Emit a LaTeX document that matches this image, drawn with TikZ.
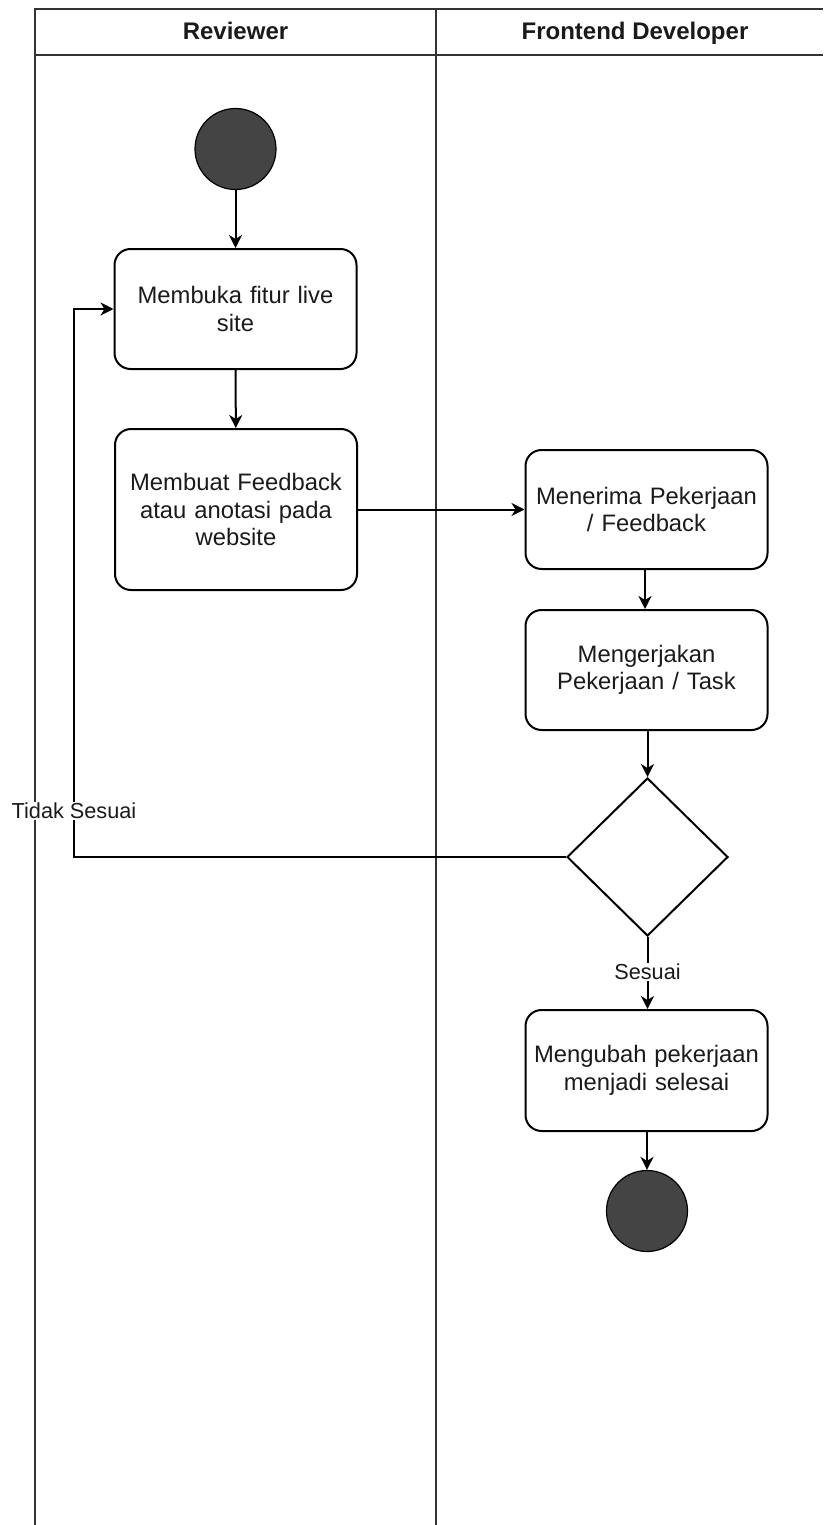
\documentclass[tikz,border=0pt]{standalone}
\usepackage{fontspec}
\setmainfont{Liberation Sans}
\usetikzlibrary{shapes.geometric,arrows.meta}
\definecolor{poolc}{HTML}{333333}
\definecolor{dotc}{HTML}{444444}
\definecolor{txtc}{HTML}{1A1A1A}
\tikzset{
  act/.style={draw=black, line width=2pt, rounded corners=16pt, align=center,
    minimum width=242pt, text width=234pt, inner sep=0pt, text=txtc,
    font=\fontsize{23.8}{27.5}\selectfont},
  dot/.style={circle, draw=black, line width=1.2pt, fill=dotc, minimum size=81pt, inner sep=0pt},
  dec/.style={diamond, draw=black, line width=2pt, minimum width=161pt, minimum height=158pt, inner sep=0pt},
  conn/.style={line width=2pt, -{Stealth[length=13pt,width=13pt,inset=4pt]}},
  lane/.style={draw=poolc, line width=2.3pt},
  lbl/.style={fill=white, inner sep=1pt, text=txtc, font=\fontsize{21.7}{25}\selectfont},
  hdr/.style={anchor=base, text=txtc, font=\fontsize{24}{28}\selectfont\bfseries}
}
\begin{document}
\begin{tikzpicture}[x=1pt,y=-1pt]
\useasboundingbox (0,0) rectangle (823,1525);
% pool
\draw[lane] (35,1525) -- (35,9) -- (823,9);
\draw[lane] (35,55) -- (823,55);
\draw[lane] (436,9) -- (436,1525);
\node[hdr] (h1) at (235.5,40) {Reviewer};
\node[hdr] (h2) at (635,40) {Frontend Developer};
% nodes
\node[dot] (start) at (235.5,149) {};
\node[act, minimum height=120pt] (b1) at (235.5,309) {Membuka fitur live\\site};
\node[act, minimum height=161pt] (b2) at (236,509.5) {Membuat Feedback\\atau anotasi pada\\website};
\node[act, minimum height=119pt] (b3) at (646.5,509.5) {Menerima Pekerjaan\\/ Feedback};
\node[act, minimum height=120pt] (b4) at (646.5,670) {Mengerjakan\\Pekerjaan / Task};
\node[dec] (d) at (647.5,857) {};
\node[act, minimum height=121pt] (b5) at (646.5,1070.5) {Mengubah pekerjaan\\menjadi selesai};
\node[dot] (end) at (647,1211) {};
\coordinate (lp) at (74,857);
% connectors
\draw[conn] (start) -- (b1);
\draw[conn] (b1) -- (b2);
\draw[conn] (b2.east) -- (b3.west);
\draw[conn] (b3.south -| 645,0) -- (b4.north -| 645,0);
\draw[conn] (b4.south -| d.north) -- (d.north);
\draw[conn] (d.south) -- (b5.north -| d.south);
\draw[conn] (b5.south -| end.north) -- (end.north);
\draw[conn] (d.west) -- (lp) |- (b1.west);
\node[lbl] (l1) at (74,811) {Tidak Sesuai};
\node[lbl] (l2) at (647.5,972) {Sesuai};
\end{tikzpicture}
\end{document}
